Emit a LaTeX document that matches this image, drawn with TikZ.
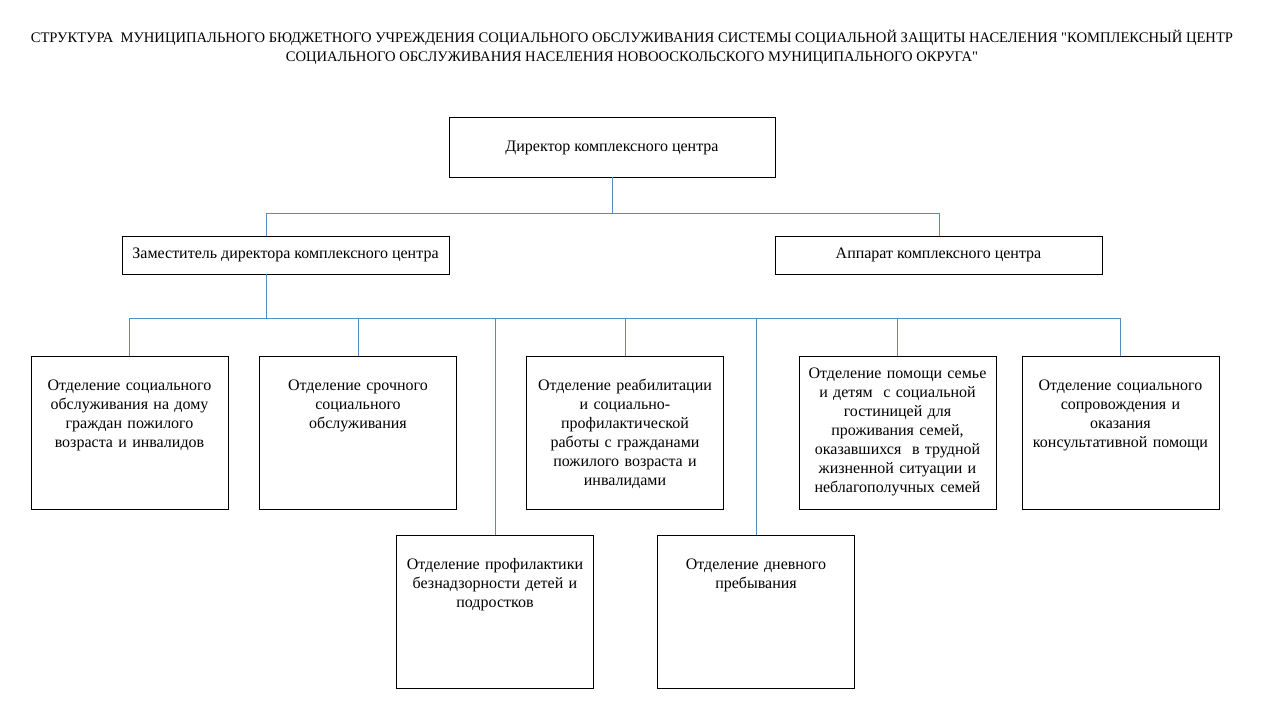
\documentclass[tikz,border=0pt]{standalone}
\usepackage{fontspec}
\setmainfont{Liberation Serif}
\newfontfamily\plainquote{Liberation Serif}
\usepackage{xcolor}
\definecolor{linkblue}{RGB}{84,141,196}
\newcommand{\sq}{{\plainquote"}}

\begin{document}
\begin{tikzpicture}[x=1pt,y=1pt,yscale=-1,xscale=1,
  chief/.style={draw, line width=0.8pt, minimum width=326pt, minimum height=60pt, inner sep=0pt, font=\fontsize{16}{19}\selectfont},
  deputy/.style={draw, line width=0.8pt, minimum width=327pt, minimum height=38pt, inner sep=0pt, font=\fontsize{16}{19}\selectfont},
  dept/.style={draw, line width=0.8pt, anchor=north, text width=185pt, inner xsep=6pt, inner ysep=0pt, align=center, text height=34pt, text depth=119pt, font=\fontsize{16}{19}\selectfont},
  link/.style={draw=linkblue, line width=0.9pt}]
\useasboundingbox (0,0) rectangle (1280,720);

% Title
\node (title) at (632,47) [align=center, inner sep=0pt, font=\fontsize{14.6}{19}\selectfont] {СТРУКТУРА~ МУНИЦИПАЛЬНОГО БЮДЖЕТНОГО УЧРЕЖДЕНИЯ СОЦИАЛЬНОГО ОБСЛУЖИВАНИЯ СИСТЕМЫ СОЦИАЛЬНОЙ ЗАЩИТЫ НАСЕЛЕНИЯ \sq КОМПЛЕКСНЫЙ ЦЕНТР\\ СОЦИАЛЬНОГО ОБСЛУЖИВАНИЯ НАСЕЛЕНИЯ НОВООСКОЛЬСКОГО МУНИЦИПАЛЬНОГО ОКРУГА\sq};

% Top levels
\node (dirc) at (612,147) [chief, text height=9pt, text depth=1pt] {Директор комплексного центра};
\node (zam) at (285.5,255) [deputy] {Заместитель директора комплексного центра};
\node (appar) at (938.5,255) [deputy] {Аппарат комплексного центра};

% Departments, first row
\node (odom) at (129.5,356) [dept] {Отделение социального\\ обслуживания на дому\\ граждан пожилого\\ возраста и инвалидов};
\node (osroch) at (358,356) [dept] {Отделение срочного\\ социального\\ обслуживания};
\node (oreab) at (625,356) [dept] {Отделение реабилитации\\ и социально-\\ профилактической\\ работы с гражданами\\ пожилого возраста и\\ инвалидами};
\node (osem) at (897.5,356) [dept, text height=22pt, text depth=131pt] {Отделение помощи семье\\ и детям~ с социальной\\ гостиницей для\\ проживания семей,\\ оказавшихся~ в трудной\\ жизненной ситуации и\\ неблагополучных семей};
\node (osopr) at (1120.5,356) [dept] {Отделение социального\\ сопровождения и\\ оказания\\ консультативной помощи};

% Departments, second row
\node (oprof) at (495,535) [dept] {Отделение профилактики\\ безнадзорности детей и\\ подростков};
\node (odnev) at (756,535) [dept] {Отделение дневного\\ пребывания};

% Bus lines
\coordinate (busa) at (266,213);
\coordinate (busb) at (939,213);
\coordinate (busc) at (130,318);
\coordinate (busd) at (1121,318);

\draw [link] (busa) -- (busb);
\draw [link] (dirc.south) -- (dirc.south |- busa);
\draw [link] (busa) -- (busa |- zam.north);
\draw [link] (busb) -- (busb |- appar.north);

\draw [link] (busc) -- (busd);
\draw [link] (busa |- zam.south) -- (busa |- busc);
\foreach \d in {odom,osroch,oreab,osem,osopr,oprof,odnev}
  \draw [link] (\d.north |- busc) -- (\d.north);

\end{tikzpicture}
\end{document}
